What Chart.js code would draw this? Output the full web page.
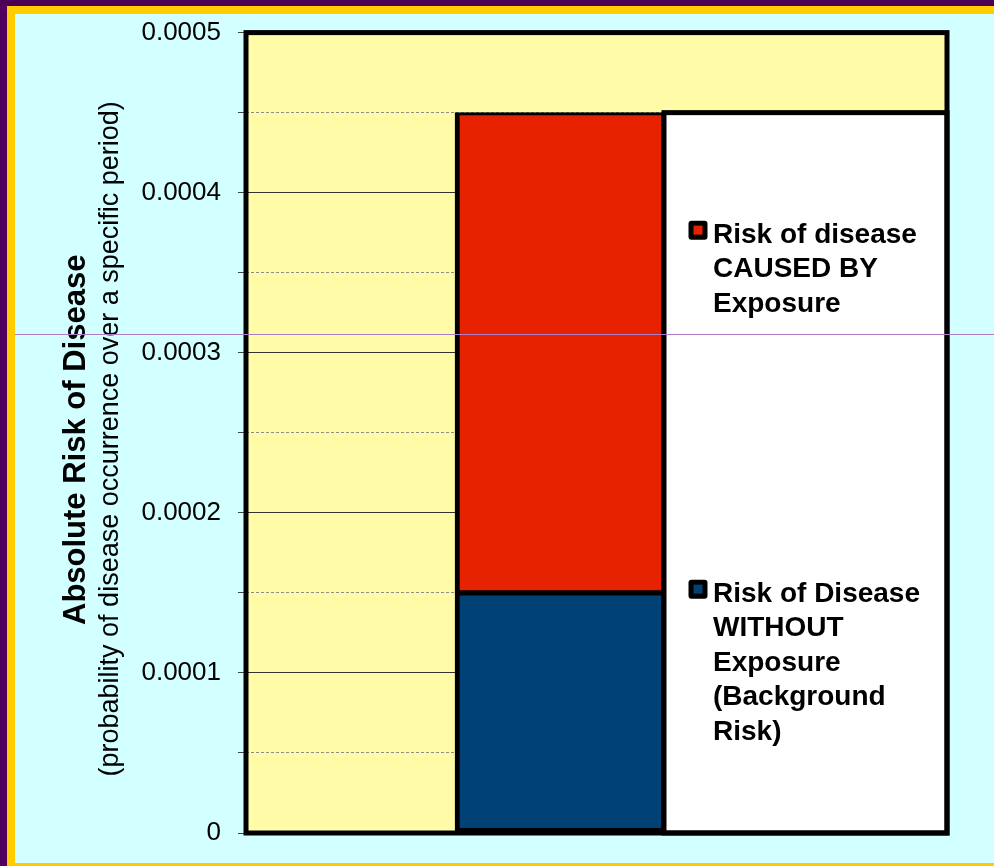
<!DOCTYPE html>
<html>
<head>
<meta charset="utf-8">
<title>Absolute Risk of Disease</title>
<script src="https://cdn.jsdelivr.net/npm/chart.js@4.4.0/dist/chart.umd.min.js"></script>
<style>
  html, body { margin: 0; padding: 0; }
  body { width: 994px; height: 866px; overflow: hidden; position: relative; background: #D2FFFF; }
  .outer { position: absolute; left: 0; top: 0; width: 994px; height: 866px; box-sizing: border-box;
           border-top: 6px solid #4A0055; border-left: 7px solid #4F005E; }
  .inner { position: absolute; left: 0; top: 0; right: 0; bottom: 0;
           border-top: 8px solid #FFCC00; border-left: 8px solid #FFCC00; border-bottom: 3px solid #FFCC00; }
  canvas { position: absolute; left: 0; top: 0; }
</style>
</head>
<body>
<div class="outer"><div class="inner"></div></div>
<canvas id="chart" width="994" height="866"></canvas>
<script>
// Chart data
const categories = ['Unexposed', 'Exposed'];
const backgroundRisk = [0, 0.00015];   // risk without exposure
const causedRisk = [0, 0.0003];        // extra risk caused by exposure
const yTickLabels = ['0', '0.0001', '0.0002', '0.0003', '0.0004', '0.0005'];
const backgroundLines = ['Risk of Disease', 'WITHOUT', 'Exposure', '(Background', 'Risk)'];
const causedLines = ['Risk of disease', 'CAUSED BY', 'Exposure'];
const yTitle = 'Absolute Risk of Disease';
const ySubtitle = '(probability of disease occurrence over a specific period)';

const FONT = "'Liberation Sans', Arial, Helvetica, sans-serif";
const RED = '#E62200';
const BLUE = '#004276';
const PANEL_W = 283;   // width of the legend panel to the right of the bars

const legendItems = [
  { lines: causedLines, color: RED, baselineOffset: 130 },
  { lines: backgroundLines, color: BLUE, baselineOffset: 489 }
];

const framePlugin = {
  id: 'framePlugin',
  beforeDraw(chart) {
    const { ctx, chartArea: a } = chart;
    ctx.save();
    ctx.fillStyle = '#FFFBA6';
    ctx.fillRect(a.left, a.top, a.right + PANEL_W - a.left, a.bottom - a.top);
    ctx.restore();
  },
  afterDatasetsDraw(chart) {
    const { ctx, chartArea: a, scales } = chart;
    const y = scales.y;
    const right = a.right + PANEL_W;
    const total = Math.max(...backgroundRisk.map((v, i) => v + causedRisk[i]));
    const panelTop = y.getPixelForValue(total);

    ctx.save();
    // legend panel
    ctx.fillStyle = '#FFFFFF';
    ctx.fillRect(a.right, panelTop, PANEL_W, a.bottom - panelTop);
    ctx.strokeStyle = '#000';
    ctx.lineWidth = 5;
    ctx.lineJoin = 'miter';
    ctx.strokeRect(a.right, panelTop, PANEL_W, a.bottom - panelTop);

    // plot frame
    ctx.strokeRect(a.left, a.top, right - a.left, a.bottom - a.top);

    // legend entries
    ctx.font = 'bold 28px ' + FONT;
    ctx.textAlign = 'left';
    ctx.textBaseline = 'alphabetic';
    legendItems.forEach(item => {
      const base = panelTop + item.baselineOffset;
      const mx = a.right + 24.5, my = base - 22;
      ctx.fillStyle = '#000';
      ctx.beginPath();
      ctx.roundRect(mx, my, 19, 19, 3);
      ctx.fill();
      ctx.fillStyle = item.color;
      ctx.fillRect(mx + 5, my + 5, 9, 9);
      ctx.fillStyle = '#000';
      item.lines.forEach((t, k) => ctx.fillText(t, a.right + 49, base + k * 34.5));
    });

    // axis titles
    const cy = (a.top + a.bottom) / 2 + 7;
    ctx.fillStyle = '#000';
    ctx.textAlign = 'center';
    ctx.save();
    ctx.translate(85, cy);
    ctx.rotate(-Math.PI / 2);
    ctx.font = 'bold 31px ' + FONT;
    ctx.fillText(yTitle, 0, 0);
    ctx.restore();
    ctx.save();
    ctx.translate(118, cy - 1);
    ctx.rotate(-Math.PI / 2);
    ctx.font = '27px ' + FONT;
    ctx.fillText(ySubtitle, 0, 0);
    ctx.restore();
    ctx.restore();
  },
  afterDraw(chart) {
    const { ctx } = chart;
    ctx.save();
    ctx.fillStyle = '#AC7CC8';
    ctx.fillRect(15, 334, chart.width - 15, 1);
    ctx.restore();
  }
};

new Chart(document.getElementById('chart'), {
  type: 'bar',
  data: {
    labels: categories,
    datasets: [
      {
        label: backgroundLines.join(' '),
        data: backgroundRisk,
        backgroundColor: BLUE,
        borderColor: '#000',
        borderWidth: { top: 3, right: 3, bottom: 5, left: 5 },
        borderSkipped: false
      },
      {
        label: causedLines.join(' '),
        data: causedRisk,
        backgroundColor: RED,
        borderColor: '#000',
        borderWidth: { top: 3, right: 3, bottom: 3, left: 5 },
        borderSkipped: false
      }
    ]
  },
  options: {
    responsive: false,
    animation: false,
    events: [],
    layout: { padding: { top: 32, right: 330, bottom: 33, left: 0 } },
    datasets: { bar: { categoryPercentage: 1, barPercentage: 1 } },
    plugins: { legend: { display: false }, tooltip: { enabled: false } },
    scales: {
      x: { stacked: true, display: false },
      y: {
        stacked: true,
        min: 0,
        max: 0.0005,
        afterFit(scale) { scale.width = 246; },
        grid: {
          color: ctx => (ctx.index % 2 === 0 ? '#333333' : '#8C8C8C'),
          lineWidth: 1,
          drawTicks: true,
          tickLength: 8,
          tickColor: '#444444'
        },
        border: { display: false, dash: ctx => (ctx.index % 2 === 0 ? [] : [3, 2]) },
        ticks: {
          stepSize: 0.00005,
          autoSkip: false,
          padding: 17,
          color: '#000',
          font: { family: FONT, size: 26 },
          callback: (v, i) => (i % 2 === 0 ? yTickLabels[i / 2] : '')
        }
      }
    }
  },
  plugins: [framePlugin]
});
</script>
</body>
</html>
